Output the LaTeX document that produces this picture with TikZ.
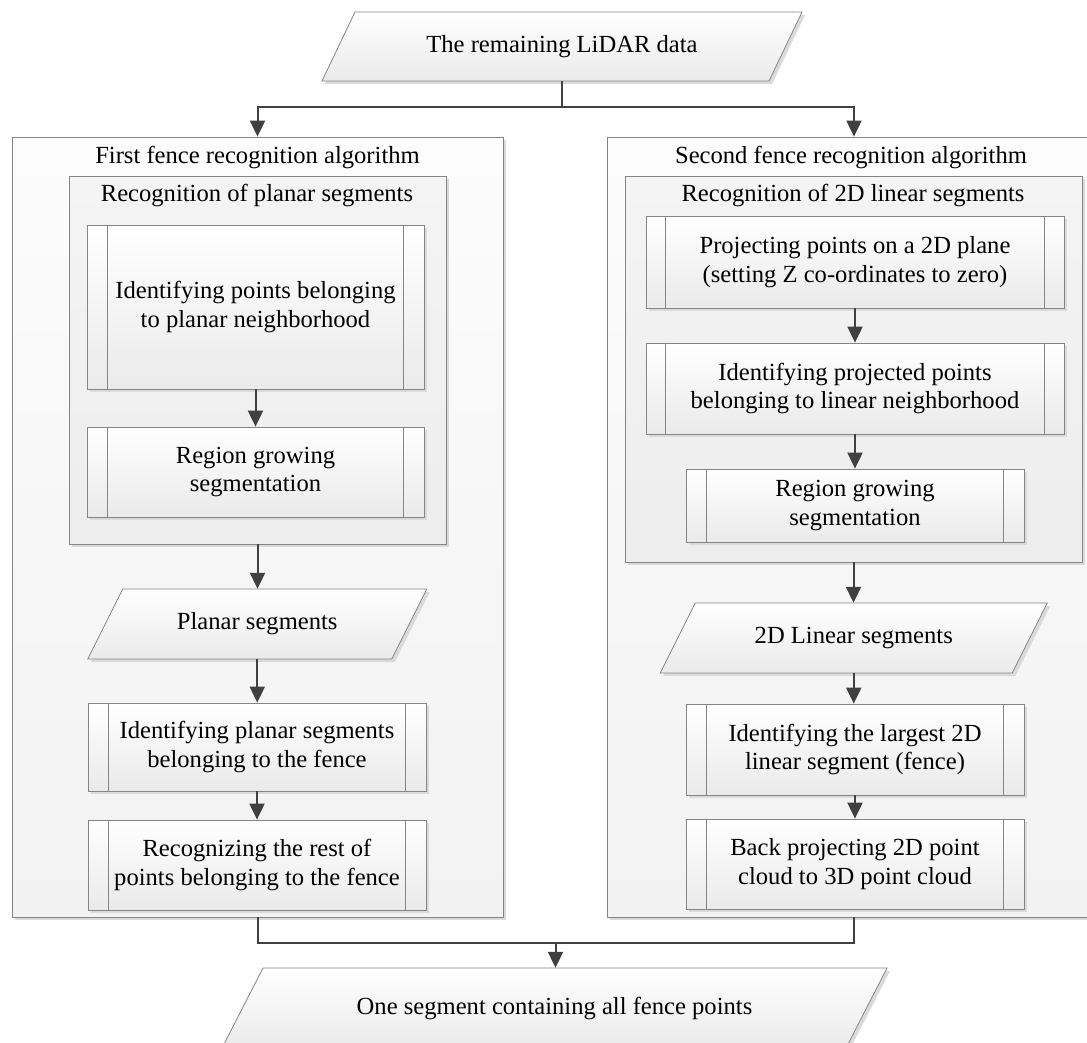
\documentclass[tikz,border=0pt]{standalone}
\usepackage{fontspec}
\setmainfont{Liberation Serif}
\usetikzlibrary{shadows,arrows.meta}
\definecolor{bordc}{HTML}{858585}
\definecolor{arrc}{HTML}{404040}
\definecolor{shadc}{HTML}{DADADA}
\definecolor{outtop}{HTML}{FCFCFC}
\definecolor{outbot}{HTML}{F2F2F2}
\definecolor{intop}{HTML}{F4F4F4}
\definecolor{inbot}{HTML}{EDEDED}
\definecolor{subbot}{HTML}{EAEAEA}
\newcommand\mypara[7]{%
  \path[box, top color=white, bottom color=subbot]
    ({#2-#4+#6},{#3-#5}) -- ({#2+#4+#6},{#3-#5}) -- ({#2+#4-#6},{#3+#5}) -- ({#2-#4-#6},{#3+#5}) -- cycle;
  \node[lbl, minimum width={2*#4}, minimum height={2*#5}] (#1) at (#2,#3) {#7};}
\begin{document}
\begin{tikzpicture}[x=1pt,y=-1pt,
  font=\fontsize{24.6}{28.5}\selectfont,
  box/.style={draw=bordc, line width=0.8pt, inner sep=0pt,
    drop shadow={shadow xshift=3pt, shadow yshift=-3pt, fill=shadc, opacity=1}},
  outerbox/.style={box, top color=outtop, bottom color=outbot},
  innerbox/.style={box, top color=intop, bottom color=inbot},
  subbox/.style={box, top color=white, bottom color=subbot, align=center},
  lbl/.style={inner sep=0pt, align=center},
  link/.style={draw=arrc, line width=2pt},
  arr/.style={link, -{Triangle[width=15pt,length=16pt]}}]
\useasboundingbox (0,0) rectangle (1087,1042);
\clip (0,0) rectangle (1087,1042);
\fill[white] (0,0) rectangle (1087,1042);

% input
\mypara{in}{562}{46.5}{223.5}{34.5}{16.5}{The remaining LiDAR data}

% outer boxes
\node[outerbox, minimum width=491, minimum height=780] (alg1) at (257.5,527) {};
\node[lbl] (t1) at (257.5,157) {First fence recognition algorithm};
\node[outerbox, minimum width=494, minimum height=780] (alg2) at (854,527) {};
\node[lbl] (t2) at (851,157) {Second fence recognition algorithm};

% inner boxes
\node[innerbox, minimum width=377, minimum height=368] (rec1) at (257.5,360) {};
\node[lbl] (s1) at (257,195) {Recognition of planar segments};
\node[innerbox, minimum width=457, minimum height=386] (rec2) at (853.5,369) {};
\node[lbl] (s2) at (853,195) {Recognition of 2D linear segments};

% left column
\node[subbox, minimum width=337, minimum height=164] (l1) at (255.5,307) {Identifying points belonging\\to planar neighborhood};
\node[subbox, minimum width=337, minimum height=90] (l2) at (255.5,472) {Region growing\\segmentation};
\mypara{pl}{257.25}{624}{152}{35}{17.5}{Planar segments}
\node[subbox, minimum width=338, minimum height=88] (l3) at (257,747) {Identifying planar segments\\belonging to the fence};
\node[subbox, minimum width=338, minimum height=90] (l4) at (257,865) {Recognizing the rest of\\points belonging to the fence};

% right column
\node[subbox, minimum width=418, minimum height=92] (r1) at (855,262) {Projecting points on a 2D plane\\(setting Z co-ordinates to zero)};
\node[subbox, minimum width=418, minimum height=91] (r2) at (855,388.5) {Identifying projected points\\belonging to linear neighborhood};
\node[subbox, minimum width=338, minimum height=73] (r3) at (855,505.5) {Region growing\\segmentation};
\mypara{lin}{853.75}{638}{176}{35}{17.5}{2D Linear segments}
\node[subbox, minimum width=338, minimum height=91] (r4) at (855,749.5) {Identifying the largest 2D\\linear segment (fence)};
\node[subbox, minimum width=338, minimum height=90] (r5) at (855,864) {Back projecting 2D point\\cloud to 3D point cloud};

% output
\mypara{out}{554.5}{1008}{312}{40}{20.5}{One segment containing all fence points}

% subprocess side bars
\foreach \n/\d in {l1/21,l2/21,l3/21,l4/21,r1/20,r2/20,r3/21,r4/21,r5/21}{
  \draw[bordc, line width=0.8pt] ([xshift=\d]\n.north west) -- ([xshift=\d]\n.south west);
  \draw[bordc, line width=0.8pt] ([xshift=-\d]\n.north east) -- ([xshift=-\d]\n.south east);
}

% connectors
\draw[link] (in.south) -- ++(0,26) coordinate (split);
\draw[arr] (split) -| (alg1.north);
\draw[arr] (split) -| (alg2.north);
\draw[arr] (l1) -- (l2);
\draw[arr] (rec1.south) -- (rec1.south |- pl.north);
\draw[arr] (pl.south) -- (pl.south |- l3.north);
\draw[arr] (l3) -- (l4);
\draw[arr] (r1) -- (r2);
\draw[arr] (r2) -- (r3);
\draw[arr] (rec2.south) -- (rec2.south |- lin.north);
\draw[arr] (lin.south) -- (lin.south |- r4.north);
\draw[arr] (r4) -- (r5);
\coordinate (m) at (555.5,943);
\draw[link] (alg1.south) |- (m);
\draw[link] (alg2.south) |- (m);
\draw[arr] (m) -- (m |- out.north);
\end{tikzpicture}
\end{document}
